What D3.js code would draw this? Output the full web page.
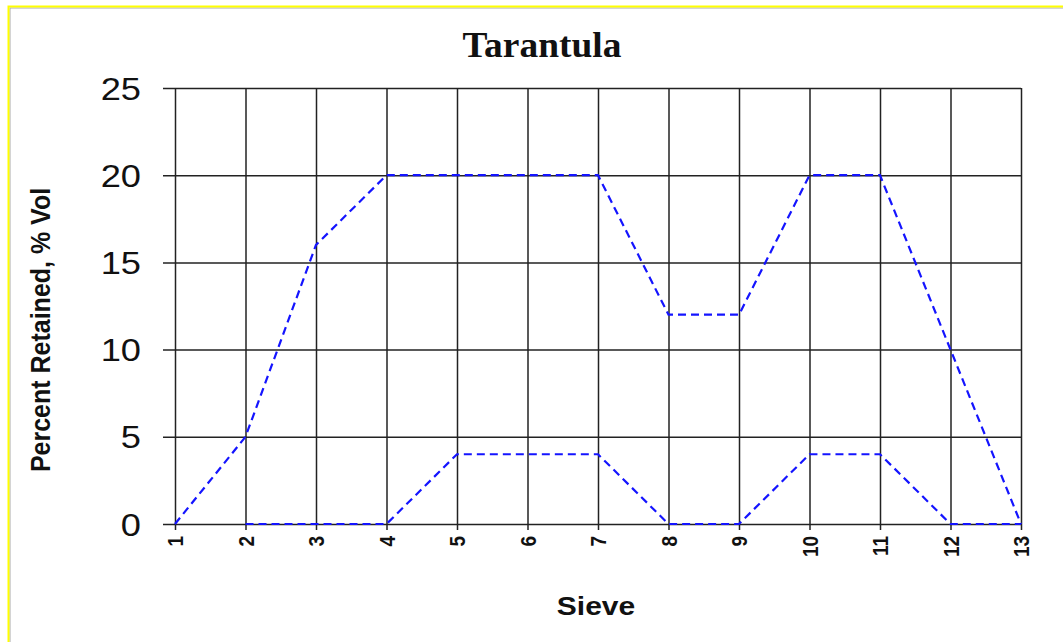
<!DOCTYPE html>
<html>
<head>
<meta charset="utf-8">
<script src="https://cdn.jsdelivr.net/npm/d3@7"></script>
<style>
  body { margin: 0; background: #fff; }
  svg { display: block; }
</style>
</head>
<body>
<svg class="chart"></svg>
<script>
// sieve numbers on the x axis
var sieves = [1, 2, 3, 4, 5, 6, 7, 8, 9, 10, 11, 12, 13];
// upper dashed line
var upperVals = [0, 5, 16, 20, 20, 20, 20, 12, 12, 20, 20, 10, 0];
// lower dashed line (no point at sieve 1)
var lowerVals = [null, 0, 0, 0, 4, 4, 4, 0, 0, 4, 4, 0, 0];
var yTicks = [0, 5, 10, 15, 20, 25];

var W = 1063, H = 642;
var margin = {top: 88, right: 42, bottom: 118, left: 175};
var width = W - margin.left - margin.right,
    height = H - margin.top - margin.bottom;

var chart = d3.select('.chart')
    .attr("width", W)
    .attr("height", H);

// yellow frame
chart.append("rect")
    .attr("x", 10).attr("y", 8)
    .attr("width", W + 10).attr("height", H + 10)
    .attr("fill", "none")
    .attr("stroke", "#aaa")
    .attr("stroke-width", 1);
chart.append("rect")
    .attr("x", 8.5).attr("y", 6.5)
    .attr("width", W + 10).attr("height", H + 10)
    .attr("fill", "none")
    .attr("stroke", "#ffff00")
    .attr("stroke-width", 2);

var g = chart.append("g").attr("transform", "translate(" + margin.left + "," + margin.top + ")");

var xScale = d3.scaleLinear()
    .domain([1, 13])
    .range([0, width]);

var yScale = d3.scaleLinear()
    .domain([0, 25])
    .range([height, 0]);

// horizontal grid + y ticks
g.append("g")
    .attr("class", "axis y")
    .call(d3.axisLeft(yScale).tickValues(yTicks).tickSize(-width).tickSizeOuter(0))
    .call(function(a) {
      a.select(".domain").remove();
      a.selectAll("line").attr("x1", -12).attr("x2", width).attr("stroke", "#222").attr("stroke-width", 1.5);
      a.selectAll("text")
        .attr("x", 0).attr("dy", "0.36em")
        .attr("transform", "translate(-34,0) scale(1.17,1)")
        .attr("fill", "#111")
        .style("font", "31px 'Liberation Sans', Arial, sans-serif");
    });

// vertical grid + x ticks
g.append("g")
    .attr("class", "axis x")
    .attr("transform", "translate(0," + height + ")")
    .call(d3.axisBottom(xScale).tickValues(sieves).tickFormat(d3.format("d")).tickSize(6))
    .call(function(a) {
      a.select(".domain").remove();
      a.selectAll("line").attr("y1", -height).attr("y2", 6).attr("stroke", "#222").attr("stroke-width", 1.5);
      a.selectAll("text")
        .attr("fill", "#111")
        .attr("transform", "rotate(-90) scale(1,1.2)")
        .attr("x", -12).attr("y", 0).attr("dy", "0.35em")
        .style("text-anchor", "end")
        .style("font", "bold 19px 'Liberation Sans', Arial, sans-serif");
    });

var line = d3.line()
    .defined(function(d) { return d.v !== null; })
    .x(function(d) { return xScale(d.s); })
    .y(function(d) { return yScale(d.v); });

[upperVals, lowerVals].forEach(function(vals) {
  var data = sieves.map(function(s, i) { return {s: s, v: vals[i]}; });
  g.append("path")
      .datum(data)
      .attr("class", "line")
      .attr("fill", "none")
      .attr("stroke", "#1414ff")
      .attr("stroke-width", 2.2)
      .attr("stroke-dasharray", "8,5")
      .attr("d", line);
});

// title
chart.append("text")
    .attr("transform", "translate(542,57) scale(1.07,1)")
    .style("text-anchor", "middle")
    .style("font", "bold 35px 'Liberation Serif', 'Times New Roman', serif")
    .attr("fill", "#111")
    .text("Tarantula");

chart.append("text")
    .attr("transform", "translate(596,615) scale(1.2,1)")
    .style("text-anchor", "middle")
    .style("font", "bold 25px 'Liberation Sans', Arial, sans-serif")
    .attr("fill", "#111")
    .text("Sieve");

chart.append("text")
    .attr("transform", "translate(50,330) rotate(-90) scale(1,1.1)")
    .style("text-anchor", "middle")
    .style("font", "bold 25px 'Liberation Sans', Arial, sans-serif")
    .attr("fill", "#111")
    .text("Percent Retained, % Vol");
</script>
</body>
</html>
